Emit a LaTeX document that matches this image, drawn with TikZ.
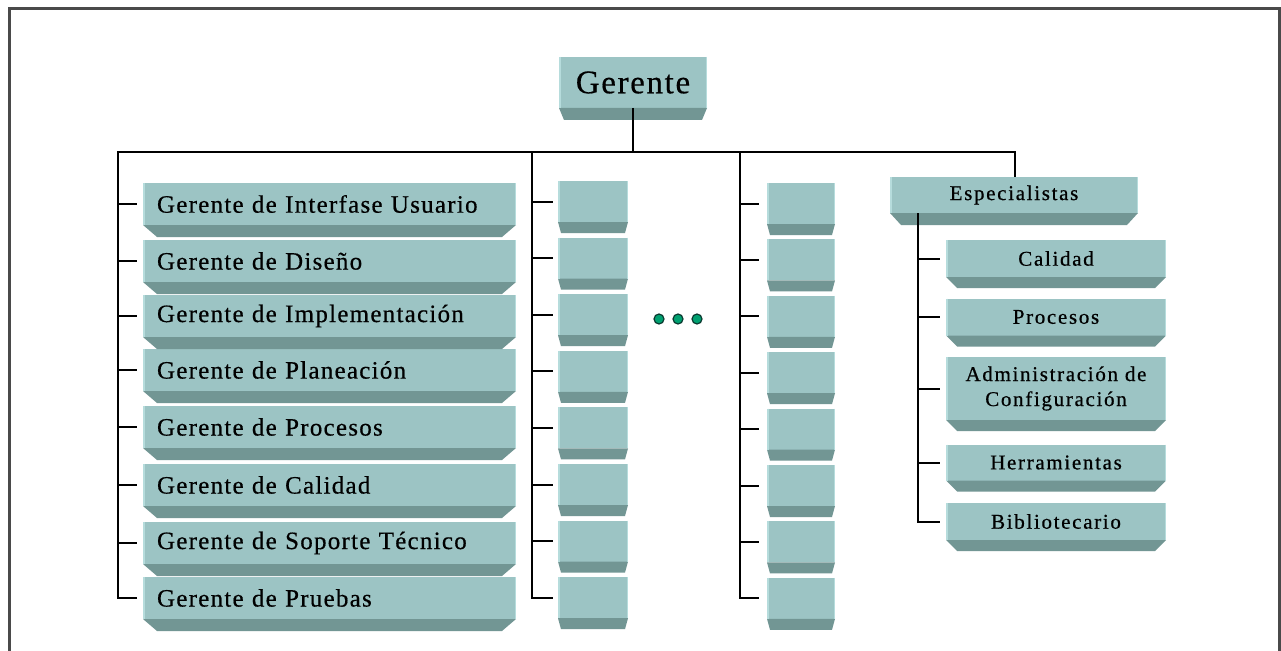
\documentclass[tikz,border=0pt]{standalone}
\usepackage{fontspec}
\setmainfont{Liberation Serif}
\newfontfamily\lblfont[LetterSpace=5,FakeBold=0.5]{Liberation Serif}
\newfontfamily\spfont[LetterSpace=8,FakeBold=0.6]{Liberation Serif}
\newfontfamily\topfont[LetterSpace=5,FakeBold=0.5]{Liberation Serif}
\usetikzlibrary{calc}
\definecolor{facecol}{HTML}{9CC4C4}
\definecolor{bevcol}{HTML}{729694}
\definecolor{edgecol}{HTML}{B6DCDC}
\definecolor{dotcol}{HTML}{00A070}
\definecolor{dotdark}{HTML}{0A3A30}
\definecolor{framecol}{HTML}{4A4A4A}
\newcommand{\BevelUnder}[3]{%
  \fill[bevcol] (#1.south west) -- (#1.south east) -- ($(#1.south east)+(-#2,#3)$) -- ($(#1.south west)+(#2,#3)$) -- cycle;
  \draw[edgecol, line width=1.5pt] ($(#1.north west)+(0.75,0)$) -- ($(#1.south west)+(0.75,0)$);
  \draw[edgecol, line width=1.5pt] ($(#1.north east)+(-0.75,0)$) -- ($(#1.south east)+(-0.75,0)$);}
\tikzset{
  face/.style={fill=facecol, inner sep=0pt, outer sep=0pt},
  topbox/.style={face, minimum width=148pt, minimum height=51pt, font={\topfont\fontsize{33}{35}\selectfont}},
  leftbox/.style={face, minimum width=373pt, minimum height=42pt, text width=345pt, align=left, font={\lblfont\fontsize{25}{27}\selectfont}},
  smallA/.style={face, minimum width=70pt, minimum height=41pt},
  smallB/.style={face, minimum width=68pt, minimum height=41pt},
  espbox/.style={face, minimum width=248pt, minimum height=36pt, font={\spfont\fontsize{21}{23}\selectfont}},
  spbox/.style={face, minimum width=220pt, minimum height=37pt, align=center, font={\spfont\fontsize{21}{25}\selectfont}},
  conn/.style={draw=black, line width=2pt},
  dotnode/.style={circle, fill=dotcol, draw=dotdark, line width=1.2pt, minimum size=10pt, inner sep=0pt},
}
\begin{document}
\begin{tikzpicture}[x=1pt,y=-1pt]
\useasboundingbox (0,0) rectangle (1281,650);
\fill[white] (0,0) rectangle (1281,650);
% frame
\draw[framecol, line width=3pt] (9,652) -- (9,9) -- (1279,9) -- (1279,652);

% top
\node[topbox] (G) at (633,82.5) {Gerente};
\BevelUnder{G}{5}{12}

% left column
\node[leftbox] (L1) at (329.5,204) {Gerente de Interfase Usuario};
\node[leftbox] (L2) at (329.5,261) {Gerente de Diseño};
\node[leftbox] (L3) at (329.5,316) {Gerente de Implementación};
\node[leftbox] (L4) at (329.5,370) {Gerente de Planeación};
\node[leftbox] (L5) at (329.5,427) {Gerente de Procesos};
\node[leftbox] (L6) at (329.5,485) {Gerente de Calidad};
\node[leftbox] (L7) at (329.5,543) {Gerente de Soporte Técnico};
\node[leftbox] (L8) at (329.5,598) {Gerente de Pruebas};
\foreach \i in {1,...,8} {\BevelUnder{L\i}{14}{12}}

% middle columns
\foreach \i in {1,...,8} {
  \node[smallA] (M\i) at (593,{201.5+56.6*(\i-1)}) {};
  \BevelUnder{M\i}{3}{11}
  \node[smallB] (N\i) at (801,{203.5+56.4*(\i-1)}) {};
  \BevelUnder{N\i}{3}{11}
}

% dots
\node[dotnode] (d1) at (659,319) {};
\node[dotnode] (d2) at (678,319) {};
\node[dotnode] (d3) at (697,319) {};

% especialistas
\node[espbox] (E) at (1014,195) {Especialistas};
\BevelUnder{E}{11}{12}
\node[spbox] (S1) at (1056,258.5) {Calidad};
\node[spbox] (S2) at (1056,317) {Procesos};
\node[spbox, minimum height=63pt] (S3) at (1056,388.5) {Administración de\\Configuración};
\node[spbox, minimum height=36pt] (S4) at (1056,462.5) {Herramientas};
\node[spbox] (S5) at (1056,521.5) {Bibliotecario};
\foreach \i in {1,...,5} {\BevelUnder{S\i}{11}{11}}

% connectors
\coordinate (busL) at (118,152);
\coordinate (busR) at (1015,152);
\coordinate (b2) at (532,152);
\coordinate (b3) at (740,152);
\coordinate (sv) at (918,213);
\draw[conn] (G.south) -- (G.south |- busL);
\draw[conn] ($(L8.west)+(-6,0)$) -| (busL) -- (busR) -- (busR |- E.north);
\foreach \i in {1,...,7} {\draw[conn] (busL |- L\i.west) -- ($(L\i.west)+(-6,0)$);}
\draw[conn] (b2) |- ($(M8.west)+(-5,0)$);
\foreach \i in {1,...,7} {\draw[conn] (b2 |- M\i.west) -- ($(M\i.west)+(-5,0)$);}
\draw[conn] (b3) |- ($(N8.west)+(-8,0)$);
\foreach \i in {1,...,7} {\draw[conn] (b3 |- N\i.west) -- ($(N\i.west)+(-8,0)$);}
\draw[conn] (sv) |- ($(S5.west)+(-6,0)$);
\foreach \i in {1,...,4} {\draw[conn] (sv |- S\i.west) -- ($(S\i.west)+(-6,0)$);}
\end{tikzpicture}
\end{document}
